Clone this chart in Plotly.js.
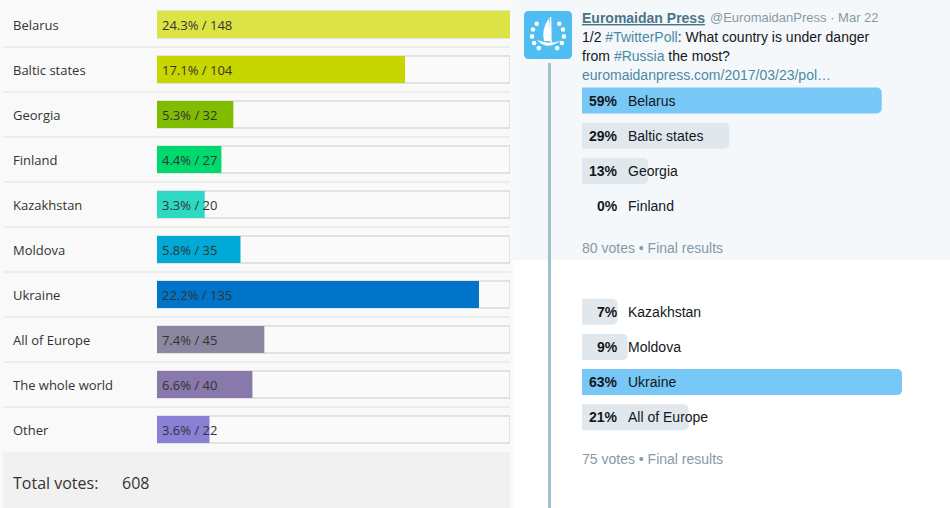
<!DOCTYPE html>
<html>
<head>
<meta charset="utf-8">
<script src="https://cdn.plot.ly/plotly-3.0.1.min.js"></script>
<style>
html,body{margin:0;padding:0;background:#fff;}
#chart{width:950px;height:508px;}
</style>
</head>
<body>
<div id="chart"></div>
<script>
// ---------- data: website poll (left) ----------
const leftCats = ['Belarus','Baltic states','Georgia','Finland','Kazakhstan','Moldova','Ukraine','All of Europe','The whole world','Other'];
const leftPct = [24.3,17.1,5.3,4.4,3.3,5.8,22.2,7.4,6.6,3.6];
const leftVotes = [148,104,32,27,20,35,135,45,40,22];
const leftColors = ['#dce344','#c8d600','#80bc00','#00d96e','#2ed9c3','#00aad6','#0074c8','#8c87a0','#8878ab','#8a80d6'];
const totalVotes = 608;

// ---------- data: twitter polls (right) ----------
const poll1Cats = ['Belarus','Baltic states','Georgia','Finland'];
const poll1Pct = [59,29,13,0];
const poll1Votes = 80;
const poll2Cats = ['Kazakhstan','Moldova','Ukraine','All of Europe'];
const poll2Pct = [7,9,63,21];
const poll2Votes = 75;

const tweetName = 'Euromaidan Press';
const tweetHandle = '@EuromaidanPress · Mar 22';
const tweetLine1 = ['1/2 ', '#TwitterPoll', ': What country is under danger'];
const tweetLine2 = ['from ', '#Russia', ' the most?'];
const tweetLink = 'euromaidanpress.com/2017/03/23/pol…';

// ---------- helpers ----------
const W = 950, H = 508;
const px = x => x / W;
const py = y => 1 - y / H;
const OPEN = 'Open Sans, sans-serif';
const ARIAL = 'Liberation Sans, Arial, sans-serif';
const LINK = '#4a8aa5';
const GREY = '#8899a6';
const DARK = '#14171a';

function rect(x0, y0, x1, y1, color) {
  return {type:'rect', xref:'paper', yref:'paper', x0:px(x0), x1:px(x1), y0:py(y1), y1:py(y0),
          fillcolor:color, line:{width:0}, layer:'below'};
}
function P(x, y) { return px(x).toFixed(5) + ',' + py(y).toFixed(5); }

const maxVotes = Math.max(...leftVotes);
const leftIdx = leftCats.map((_, i) => i);
const poll1Idx = poll1Cats.map((_, i) => i);
const poll2Idx = poll2Cats.map((_, i) => i + 6);
const winnerColor = (arr) => arr.map(v => v === Math.max(...arr) ? '#77c7f7' : '#e1e8ed');

// ---------- traces ----------
const traces = [
  { type:'bar', orientation:'h', x:leftIdx.map(() => maxVotes), y:leftIdx, width:0.6,
    marker:{color:'#fafafa', line:{width:0}}, xaxis:'x', yaxis:'y', hoverinfo:'skip' },
  { type:'bar', orientation:'h', x:leftVotes, y:leftIdx, width:0.6,
    marker:{color:leftColors, line:{width:0}}, xaxis:'x3', yaxis:'y', hoverinfo:'skip' },
  { type:'bar', orientation:'h', x:leftIdx.map(() => maxVotes), y:leftIdx, width:0.6,
    marker:{color:'rgba(0,0,0,0)', line:{width:1, color:'#cbcbcb'}},
    xaxis:'x', yaxis:'y', hoverinfo:'skip' },
  { type:'bar', orientation:'h', x:poll1Pct, y:poll1Idx, width:0.74,
    marker:{color:winnerColor(poll1Pct), line:{width:0}, cornerradius:5},
    xaxis:'x2', yaxis:'y2', hoverinfo:'skip' },
  { type:'bar', orientation:'h', x:poll2Pct, y:poll2Idx, width:0.74,
    marker:{color:winnerColor(poll2Pct), line:{width:0}, cornerradius:5},
    xaxis:'x2', yaxis:'y2', hoverinfo:'skip' }
];

// ---------- shapes (decoration) ----------
const shapes = [
  rect(0, 0, 513, 508, '#f9f9f9'),
  rect(513, 0, 950, 260, '#f5f8fa'),
  rect(513, 260, 950, 508, '#ffffff'),
  rect(3, 452, 510, 508, '#f1f1f1'),
  rect(548, 63, 551, 508, '#a3bfc9')
];
for (let i = 0; i < leftCats.length - 1; i++) {
  shapes.push({type:'line', xref:'paper', yref:'y', x0:px(3), x1:px(510), y0:i + 0.5, y1:i + 0.5,
               line:{color:'#e8e8e8', width:1.5}, layer:'below'});
}
// avatar
(function () {
  const x0 = 524, y0 = 11, x1 = 572, y1 = 59, r = 5;
  const path = 'M' + P(x0 + r, y0) + ' L' + P(x1 - r, y0) + ' Q' + P(x1, y0) + ' ' + P(x1, y0 + r) +
    ' L' + P(x1, y1 - r) + ' Q' + P(x1, y1) + ' ' + P(x1 - r, y1) +
    ' L' + P(x0 + r, y1) + ' Q' + P(x0, y1) + ' ' + P(x0, y1 - r) +
    ' L' + P(x0, y0 + r) + ' Q' + P(x0, y0) + ' ' + P(x0 + r, y0) + ' Z';
  shapes.push({type:'path', xref:'paper', yref:'paper', path:path, fillcolor:'#4fbdf2', line:{width:0}, layer:'below'});
  const cx = 548, cy = 35, R = 16;
  [125, 150, 175, 200, 225, 55, 30, 5, -20, -45].forEach(a => {
    const t = a * Math.PI / 180;
    const lx = cx + R * Math.cos(t), ly = cy + R * Math.sin(t);
    shapes.push({type:'circle', xref:'paper', yref:'paper', x0:px(lx - 2.3), x1:px(lx + 2.3),
                 y0:py(ly + 2.3), y1:py(ly - 2.3), fillcolor:'#ffffff', line:{width:0}, layer:'below'});
  });
  shapes.push({type:'path', xref:'paper', yref:'paper',
    path:'M' + P(549, 18) + ' Q' + P(541, 30) + ' ' + P(544, 41) + ' L' + P(551, 41) + ' Z',
    fillcolor:'#ffffff', line:{width:0}, layer:'below'});
  shapes.push({type:'path', xref:'paper', yref:'paper',
    path:'M' + P(537, 40) + ' Q' + P(548, 52) + ' ' + P(562, 39) + ' Q' + P(553, 46) + ' ' + P(537, 40) + ' Z',
    fillcolor:'#ffffff', line:{width:0}, layer:'below'});
  shapes.push({type:'line', xref:'paper', yref:'paper', x0:px(550.5), x1:px(551), y0:py(17), y1:py(44),
               line:{color:'#ffffff', width:1.5}, layer:'below'});
})();

// ---------- annotations ----------
const ann = [];
function txt(x, y, text, opts) {
  ann.push(Object.assign({x:x, y:y, xref:'paper', yref:'paper', text:text, showarrow:false,
    xanchor:'left', yanchor:'middle', borderpad:0, borderwidth:0}, opts));
}
leftCats.forEach((c, i) => {
  txt(px(13), i, c, {yref:'y', font:{family:OPEN, size:13, color:'#333333'}});
  txt(px(162), i, leftPct[i].toFixed(1) + '% / ' + leftVotes[i], {yref:'y', font:{family:OPEN, size:13, color:'#333333'}});
});
txt(px(13), py(483), 'Total votes:', {font:{family:OPEN, size:16, color:'#333333'}});
txt(px(122), py(483), String(totalVotes), {font:{family:OPEN, size:16, color:'#333333'}});

function pollLabels(cats, pct, idx) {
  cats.forEach((c, i) => {
    txt(px(618), idx[i], '<b>' + pct[i] + '%</b>', {yref:'y2', xanchor:'right', font:{family:ARIAL, size:14, color:DARK}});
    txt(px(628), idx[i], c, {yref:'y2', font:{family:ARIAL, size:14, color:DARK}});
  });
}
pollLabels(poll1Cats, poll1Pct, poll1Idx);
pollLabels(poll2Cats, poll2Pct, poll2Idx);

txt(px(582), py(17.5), '<b><u>' + tweetName + '</u></b>', {font:{family:ARIAL, size:14, color:'#4a7489'}});
txt(px(710), py(17.5), tweetHandle, {font:{family:ARIAL, size:13, color:GREY}});
const hl = parts => parts[0] + '<span style="color:' + LINK + '">' + parts[1] + '</span>' + parts[2];
txt(px(582), py(37), hl(tweetLine1), {font:{family:ARIAL, size:14, color:DARK}});
txt(px(582), py(56), hl(tweetLine2), {font:{family:ARIAL, size:14, color:DARK}});
txt(px(582), py(75.5), tweetLink, {font:{family:ARIAL, size:14, color:LINK}});
txt(px(582), py(248), poll1Votes + ' votes • Final results', {font:{family:ARIAL, size:14, color:GREY}});
txt(px(582), py(459), poll2Votes + ' votes • Final results', {font:{family:ARIAL, size:14, color:GREY}});

// ---------- layout ----------
const rowPx = 45, row0 = 24.5;
const tRowPx = 35.2, tRow0 = 100.5;
const hidden = {visible:false, showgrid:false, zeroline:false, fixedrange:true};
const layout = {
  width:W, height:H, margin:{l:0, r:0, t:0, b:0},
  paper_bgcolor:'#ffffff', plot_bgcolor:'rgba(0,0,0,0)',
  showlegend:false, barmode:'overlay', hovermode:false,
  xaxis:Object.assign({domain:[px(157), px(510)], range:[0, maxVotes], anchor:'y'}, hidden),
  xaxis3:Object.assign({domain:[px(157), px(509)], range:[0, maxVotes], anchor:'y', overlaying:'x'}, hidden),
  yaxis:Object.assign({domain:[0, 1], range:[-row0 / rowPx + H / rowPx, -row0 / rowPx], anchor:'x'}, hidden),
  xaxis2:Object.assign({domain:[px(582), 1], range:[0, (W - 582) / 5.08], anchor:'y2'}, hidden),
  yaxis2:Object.assign({domain:[0, 1], range:[-tRow0 / tRowPx + H / tRowPx, -tRow0 / tRowPx], anchor:'x2'}, hidden),
  shapes:shapes,
  annotations:ann
};
Plotly.newPlot('chart', traces, layout, {displayModeBar:false, staticPlot:true});
</script>
</body>
</html>
